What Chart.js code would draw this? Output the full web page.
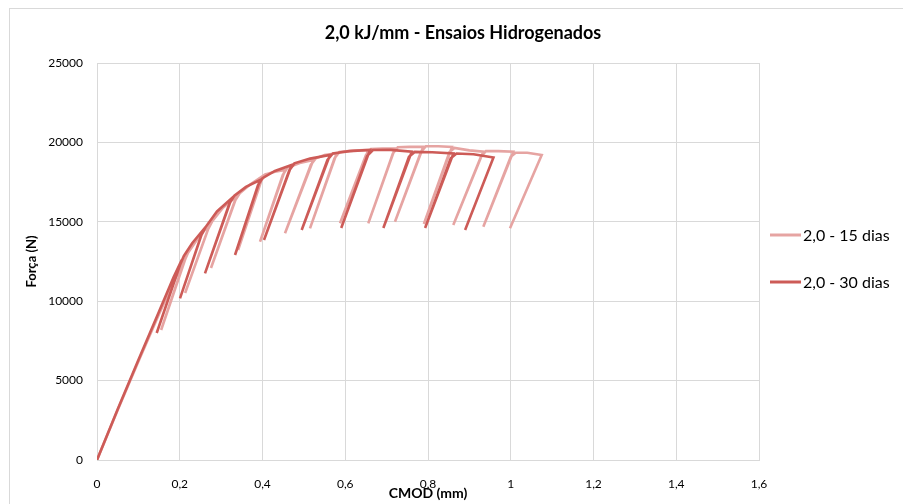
<!DOCTYPE html>
<html>
<head>
<meta charset="utf-8">
<script src="https://cdn.jsdelivr.net/npm/chart.js@4/dist/chart.umd.min.js"></script>
<style>
  html, body { margin: 0; padding: 0; background: #fff; }
  #wrap { width: 903px; height: 504px; position: relative; }
</style>
</head>
<body>
<div id="wrap"><canvas id="grafico" width="903" height="504"></canvas></div>
<script>
// Título e rótulos
const tituloGrafico = '2,0 kJ/mm - Ensaios Hidrogenados';
const tituloX = 'CMOD (mm)';
const tituloY = 'Força (N)';
const nomesSeries = ['2,0 - 15 dias', '2,0 - 30 dias'];
const coresSeries = ['#E6A4A2', '#CD5B57'];

// Ticks
const ticksX = [0, 0.2, 0.4, 0.6, 0.8, 1, 1.2, 1.4, 1.6];
const ticksY = [0, 5000, 10000, 15000, 20000, 25000];

// 2,0 - 15 dias (CMOD em mm, força em N)
const cmod15 = [
  0, 0.05, 0.10, 0.15, 0.19, 0.215,
  0.155, 0.210, 0.220, 0.245, 0.273,
  0.213, 0.268, 0.279, 0.305, 0.338,
  0.2755, 0.333, 0.345, 0.37, 0.401,
  0.341, 0.396, 0.407, 0.43, 0.4544,
  0.394, 0.449, 0.460, 0.49, 0.5228,
  0.4544, 0.517, 0.529, 0.55, 0.5793,
  0.5148, 0.574, 0.586, 0.62, 0.6557,
  0.5873, 0.650, 0.662, 0.69, 0.7202,
  0.6557, 0.715, 0.727, 0.755, 0.7886,
  0.7202, 0.783, 0.795, 0.825, 0.858,
  0.790, 0.852, 0.864, 0.90, 0.9337,
  0.8611, 0.928, 0.940, 0.97, 1.0062,
  0.9337, 1.000, 1.012, 1.04, 1.0748,
  0.9982
];
const forca15 = [
  0, 3150, 6200, 9200, 11500, 12780,
  8186, 12450, 13050, 14000, 14860,
  10516, 14500, 15050, 15900, 16624,
  12090, 16300, 16800, 17350, 17883,
  13224, 17550, 17980, 18150, 18261,
  13746, 17950, 18400, 18700, 18891,
  14276, 18600, 19000, 19200, 19313,
  14590, 19000, 19400, 19480, 19521,
  14905, 19200, 19580, 19620, 19628,
  14905, 19300, 19690, 19720, 19729,
  15006, 19400, 19760, 19760, 19710,
  14861, 19400, 19650, 19500, 19414,
  14798, 19100, 19450, 19450, 19414,
  14691, 19100, 19350, 19350, 19206,
  14590
];

// 2,0 - 30 dias
const cmod30 = [
  0, 0.05, 0.10, 0.15, 0.185, 0.2047,
  0.1443, 0.200, 0.210, 0.23, 0.2566,
  0.2006, 0.252, 0.262, 0.29, 0.3252,
  0.2610, 0.320, 0.332, 0.36, 0.394,
  0.3336, 0.389, 0.400, 0.43, 0.4705,
  0.4036, 0.465, 0.477, 0.515, 0.5631,
  0.4947, 0.557, 0.570, 0.61, 0.6598,
  0.5903, 0.653, 0.667, 0.71, 0.7607,
  0.6921, 0.754, 0.768, 0.81, 0.8614,
  0.7930, 0.855, 0.869, 0.91, 0.9582,
  0.8897
];
const forca30 = [
  0, 3200, 6300, 9350, 11500, 12594,
  7997, 12250, 12850, 13650, 14481,
  10180, 14150, 14650, 15650, 16480,
  11755, 16150, 16650, 17200, 17632,
  12909, 17300, 17750, 18200, 18576,
  13852, 18250, 18680, 18980, 19206,
  14482, 18900, 19300, 19450, 19520,
  14608, 19150, 19520, 19530, 19416,
  14608, 19100, 19400, 19380, 19310,
  14608, 19000, 19300, 19250, 19050,
  14482
];

function pontos(xs, ys) {
  return xs.map((x, i) => ({ x: x, y: ys[i] }));
}

function formatoPt(v) {
  return String(Math.round(v * 10) / 10).replace('.', ',');
}

// Moldura do gráfico (como no Excel)
const moldura = {
  id: 'moldura',
  beforeDraw(chart) {
    const ctx = chart.ctx;
    ctx.save();
    ctx.fillStyle = '#fff';
    ctx.fillRect(0, 0, chart.width, chart.height);
    ctx.strokeStyle = '#D9D9D9';
    ctx.lineWidth = 1;
    ctx.strokeRect(9.5, 8.5, 1200, 1200);
    ctx.restore();
  }
};

// Legenda à direita
const legendaDireita = {
  id: 'legendaDireita',
  afterDraw(chart) {
    const ctx = chart.ctx;
    ctx.save();
    ctx.font = '16px Lato';
    ctx.textBaseline = 'middle';
    ctx.textAlign = 'left';
    const linhasY = [235, 282];
    chart.data.datasets.forEach((ds, i) => {
      const y = linhasY[i];
      ctx.strokeStyle = ds.borderColor;
      ctx.lineWidth = 3;
      ctx.beginPath();
      ctx.moveTo(770, y);
      ctx.lineTo(801, y);
      ctx.stroke();
      ctx.fillStyle = '#000';
      ctx.fillText(ds.label, 803, y + 1);
    });
    ctx.restore();
  }
};

Chart.defaults.font.family = 'Lato';

new Chart(document.getElementById('grafico'), {
  type: 'scatter',
  data: {
    datasets: [
      {
        label: nomesSeries[0],
        data: pontos(cmod15, forca15),
        borderColor: coresSeries[0],
        backgroundColor: coresSeries[0],
        showLine: true,
        borderWidth: 2.6,
        pointRadius: 0,
        tension: 0,
        order: 1
      },
      {
        label: nomesSeries[1],
        data: pontos(cmod30, forca30),
        borderColor: coresSeries[1],
        backgroundColor: coresSeries[1],
        showLine: true,
        borderWidth: 2.6,
        pointRadius: 0,
        tension: 0,
        order: 0
      }
    ]
  },
  options: {
    responsive: false,
    animation: false,
    layout: { padding: { left: 23, right: 0, top: 0, bottom: 0 } },
    plugins: {
      legend: { display: false },
      tooltip: { enabled: false },
      title: {
        display: true,
        text: tituloGrafico,
        color: '#000',
        font: { size: 18, weight: 'bold', family: 'Lato' },
        padding: { top: 22, bottom: 19.4 }
      }
    },
    scales: {
      x: {
        type: 'linear',
        min: 0,
        max: 1.6,
        afterBuildTicks: (scale) => { scale.ticks = ticksX.map(v => ({ value: v })); },
        afterFit: (scale) => { scale.height = 44; },
        grid: { color: '#D9D9D9', drawTicks: false },
        border: { color: '#D9D9D9' },
        ticks: {
          color: '#000',
          padding: 17,
          maxRotation: 0,
          font: { size: 12 },
          callback: (v) => formatoPt(v)
        },
        title: {
          display: true,
          text: tituloX,
          color: '#000',
          font: { size: 14, weight: 'bold' },
          padding: { top: 0, bottom: 2 }
        }
      },
      y: {
        type: 'linear',
        min: 0,
        max: 25000,
        afterBuildTicks: (scale) => { scale.ticks = ticksY.map(v => ({ value: v })); },
        afterFit: (scale) => { scale.width = 74; },
        grid: { color: '#D9D9D9', drawTicks: false },
        border: { color: '#D9D9D9' },
        ticks: {
          color: '#000',
          padding: 14,
          font: { size: 12 },
          callback: (v) => String(v)
        },
        title: {
          display: true,
          text: tituloY,
          color: '#000',
          font: { size: 13, weight: 'bold' },
          padding: { top: 1, bottom: 0 }
        }
      },
      // espaço reservado para a legenda à direita
      espacoLegenda: {
        type: 'linear',
        position: 'right',
        min: 0,
        max: 1,
        display: true,
        afterFit: (scale) => { scale.width = 144; },
        grid: { display: false, drawOnChartArea: false },
        border: { display: false },
        ticks: { display: false }
      }
    }
  },
  plugins: [moldura, legendaDireita]
});
</script>
</body>
</html>
